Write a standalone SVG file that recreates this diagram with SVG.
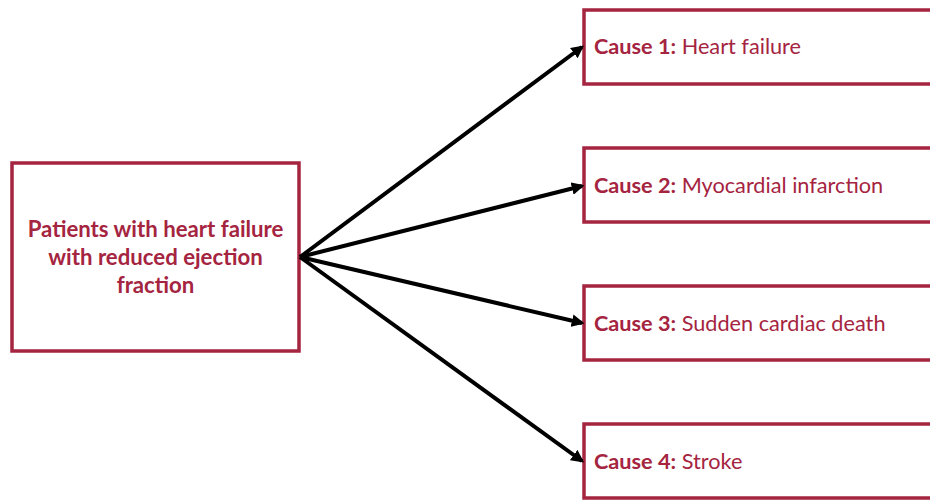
<svg xmlns="http://www.w3.org/2000/svg" width="930" height="500" viewBox="0 0 930 500">
<defs>
<style>
.box{fill:#fff;stroke:#a5243f;stroke-width:3.5}
.t{font-family:Lato,"Liberation Sans",sans-serif;font-size:21.7px;fill:#a5243f}
.s{font-size:22.2px}
.b{font-weight:bold}
.c{stroke:#000;stroke-width:4;fill:none;marker-end:url(#ah)}
</style>
<marker id="ah" viewBox="0 0 10 10" refX="8" refY="5" markerWidth="3.2" markerHeight="3.2" orient="auto" markerUnits="strokeWidth">
<path d="M0,0 L10,5 L0,10 z" fill="#000"/>
</marker>
</defs>
<rect width="930" height="500" fill="#fff"/>
<g id="source">
<rect class="box" x="12" y="163" width="287" height="188"/>
<text class="t s b" text-anchor="middle" x="155.5" y="237">Patients with heart failure</text>
<text class="t s b" text-anchor="middle" x="155.5" y="265">with reduced ejection</text>
<text class="t s b" text-anchor="middle" x="155.5" y="293">fraction</text>
</g>
<g id="cause1">
<rect class="box" x="584" y="10" width="360" height="74"/>
<text class="t" x="594" y="54"><tspan class="b">Cause 1:</tspan> Heart failure</text>
</g>
<g id="cause2">
<rect class="box" x="584" y="148" width="360" height="74"/>
<text class="t" x="594" y="193"><tspan class="b">Cause 2:</tspan> Myocardial infarction</text>
</g>
<g id="cause3">
<rect class="box" x="584" y="286" width="360" height="74"/>
<text class="t" x="594" y="331"><tspan class="b">Cause 3:</tspan> Sudden cardiac death</text>
</g>
<g id="cause4">
<rect class="box" x="584" y="424" width="360" height="74"/>
<text class="t" x="594" y="469"><tspan class="b">Cause 4:</tspan> Stroke</text>
</g>
<g id="connectors">
<line class="c" x1="300" y1="257" x2="582" y2="47"/>
<line class="c" x1="300" y1="257" x2="582" y2="186"/>
<line class="c" x1="300" y1="257" x2="582" y2="323"/>
<line class="c" x1="300" y1="257" x2="582" y2="461"/>
</g>
</svg>
